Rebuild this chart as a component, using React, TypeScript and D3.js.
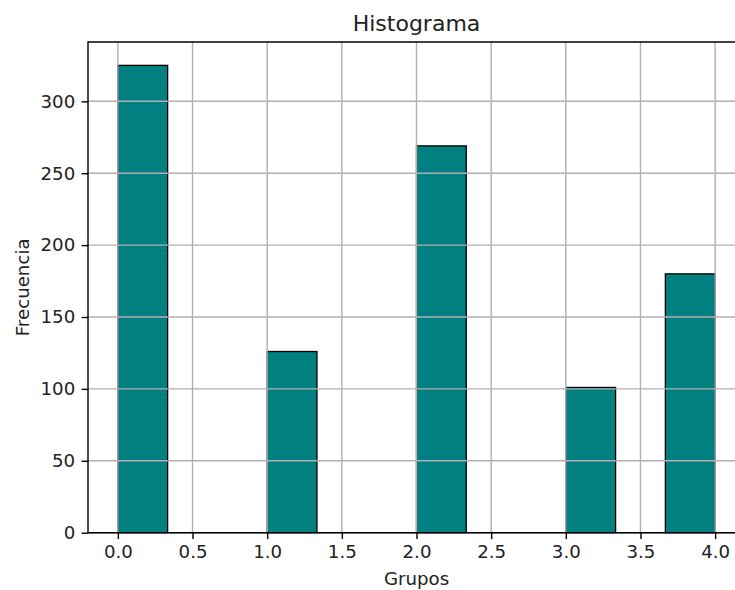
import React from 'react';
import * as d3 from 'd3';

// histogram bins (12 bins between 0 and 4) and their counts
const binEdges = [0, 1 / 3, 2 / 3, 1, 4 / 3, 5 / 3, 2, 7 / 3, 8 / 3, 3, 10 / 3, 11 / 3, 4];
const binCounts = [325, 0, 0, 126, 0, 0, 269, 0, 0, 101, 0, 180];
const xTicks = [0, 0.5, 1, 1.5, 2, 2.5, 3, 3.5, 4];
const yTicks = [0, 50, 100, 150, 200, 250, 300];

const W = 735;
const H = 590;
const margin = { top: 42, left: 88, right: 745, bottom: 532.7 };
const font = 'DejaVu Sans, sans-serif';
const lw = 1.4;

const App = () => {
    const svgRef = React.useRef<SVGSVGElement>(null);

    React.useEffect(() => {
        const svg = d3.select(svgRef.current);
        svg.selectAll('*').remove();

        const x = d3.scaleLinear().domain([-0.2, 4.2]).range([margin.left, margin.right]);
        const y = d3.scaleLinear().domain([0, 341.25]).range([margin.bottom, margin.top]);
        // the axes run past the right edge of the picture, so lines stop at the edge
        const xEnd = W;

        const bins = binCounts.map((c, i) => ({ x0: binEdges[i], x1: binEdges[i + 1], count: c }));

        // bars
        svg.append('g')
            .selectAll('rect')
            .data(bins.filter(d => d.count > 0))
            .join('rect')
            .attr('x', d => x(d.x0))
            .attr('width', d => x(d.x1) - x(d.x0))
            .attr('y', d => y(d.count))
            .attr('height', d => y(0) - y(d.count))
            .attr('fill', '#008080')
            .attr('stroke', '#000')
            .attr('stroke-width', 1.3);

        // grid over the bars, like matplotlib
        const grid = svg.append('g').attr('stroke', '#b0b0b0').attr('stroke-width', lw);
        grid.selectAll('.gx').data(xTicks).join('line')
            .attr('x1', d => x(d)).attr('x2', d => x(d))
            .attr('y1', margin.top).attr('y2', margin.bottom);
        grid.selectAll('.gy').data(yTicks).join('line')
            .attr('x1', margin.left).attr('x2', xEnd)
            .attr('y1', d => y(d)).attr('y2', d => y(d));

        // axes
        const xAxis = d3.axisBottom(x).tickValues(xTicks).tickFormat(d3.format('.1f'))
            .tickSize(6.4).tickPadding(6.4).tickSizeOuter(0);
        const yAxis = d3.axisLeft(y).tickValues(yTicks).tickFormat(d3.format('d'))
            .tickSize(6.4).tickPadding(6.4).tickSizeOuter(0);

        const gx = svg.append('g').attr('transform', `translate(0,${margin.bottom})`).call(xAxis);
        const gy = svg.append('g').attr('transform', `translate(${margin.left},0)`).call(yAxis);
        [gx, gy].forEach(g => {
            g.select('.domain').remove();
            g.selectAll('line').attr('stroke', '#000').attr('stroke-width', lw);
            g.selectAll('text').attr('font-family', font).attr('font-size', 18.2).attr('fill', '#222');
        });

        // spines: left, top, bottom (the right one is outside the picture)
        const spines = [
            [margin.left, margin.top - lw / 2, margin.left, margin.bottom + lw / 2],
            [margin.left, margin.top, xEnd, margin.top],
            [margin.left, margin.bottom, xEnd, margin.bottom],
        ];
        svg.append('g').selectAll('line').data(spines).join('line')
            .attr('x1', d => d[0]).attr('y1', d => d[1])
            .attr('x2', d => d[2]).attr('y2', d => d[3])
            .attr('stroke', '#000').attr('stroke-width', lw);

        // titles
        const cx = (margin.left + margin.right) / 2;
        svg.append('text').attr('x', cx).attr('y', 30.5)
            .attr('text-anchor', 'middle').attr('font-family', font).attr('font-size', 22)
            .attr('fill', '#222').text('Histograma');
        svg.append('text').attr('x', cx).attr('y', 585)
            .attr('text-anchor', 'middle').attr('font-family', font).attr('font-size', 18.2)
            .attr('fill', '#222').text('Grupos');
        svg.append('text')
            .attr('transform', `translate(29,${(margin.top + margin.bottom) / 2}) rotate(-90)`)
            .attr('text-anchor', 'middle').attr('font-family', font).attr('font-size', 18.2)
            .attr('fill', '#222').text('Frecuencia');
    }, []);

    return (
        <svg ref={svgRef} width={W} height={H}
            style={{ position: 'absolute', left: 0, top: 0, background: '#fff', overflow: 'hidden' }} />
    );
};

export default App;
